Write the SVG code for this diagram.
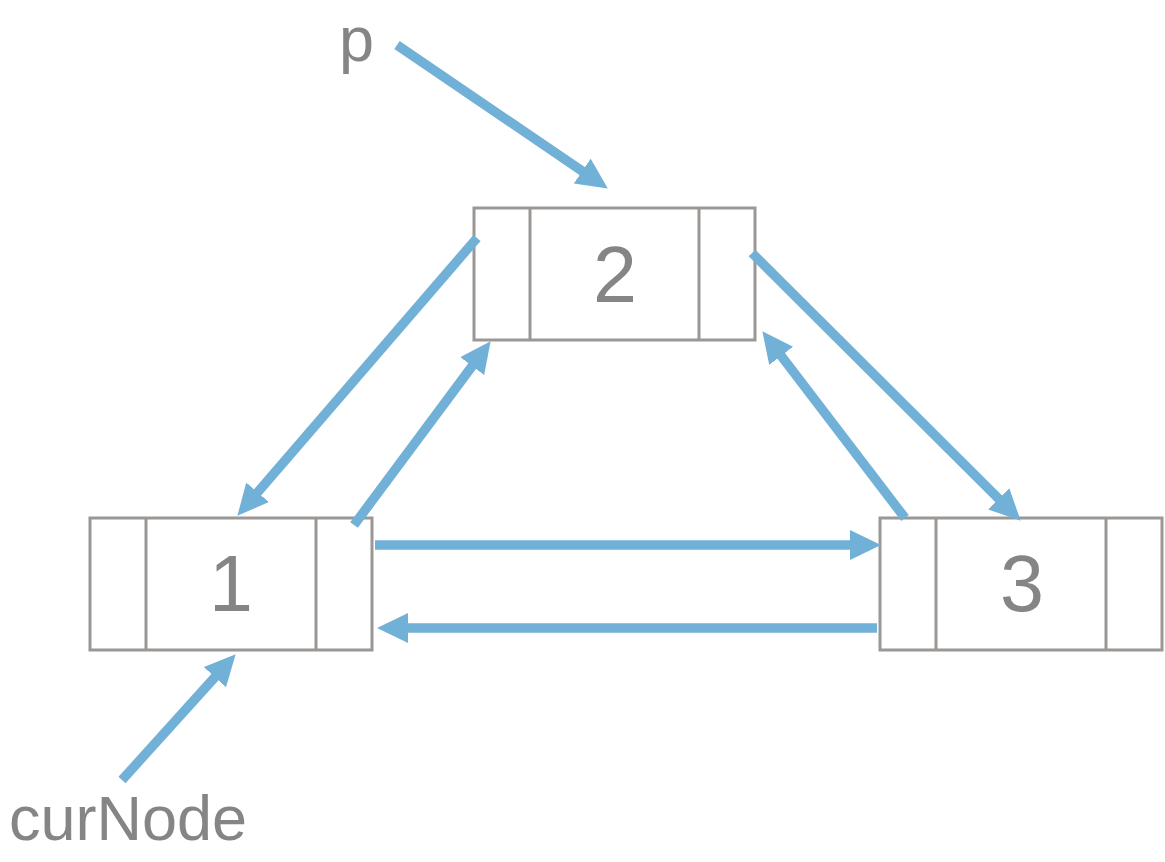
<svg xmlns="http://www.w3.org/2000/svg" width="1165" height="862" viewBox="0 0 1165 862">
<style>
.box{fill:#ffffff;stroke:#9b9795;stroke-width:3}
.lbl{font-family:"Liberation Sans",Arial,sans-serif;fill:#858585}
.num{font-size:79px;text-anchor:middle}
.name{font-size:63px}
.arr{stroke:#72b1d7;stroke-width:9.5;fill:none;marker-end:url(#ah)}
</style>
<defs>
<marker id="ah" markerUnits="userSpaceOnUse" markerWidth="34" markerHeight="32" refX="10" refY="15" orient="auto">
<path d="M0,0 L31,15 L0,30 Z" fill="#72b1d7"/>
</marker>
</defs>
<rect width="1165" height="862" fill="#ffffff"/>
<g id="node1">
<rect class="box" x="90" y="518" width="282" height="132"/>
<line class="box" x1="146" y1="518" x2="146" y2="650"/>
<line class="box" x1="316" y1="518" x2="316" y2="650"/>
<text class="lbl num" x="231" y="611">1</text>
</g>
<g id="node2">
<rect class="box" x="474" y="208" width="281" height="132"/>
<line class="box" x1="530" y1="208" x2="530" y2="340"/>
<line class="box" x1="699" y1="208" x2="699" y2="340"/>
<text class="lbl num" x="615" y="302">2</text>
</g>
<g id="node3">
<rect class="box" x="880" y="518" width="282" height="132"/>
<line class="box" x1="936" y1="518" x2="936" y2="650"/>
<line class="box" x1="1106" y1="518" x2="1106" y2="650"/>
<text class="lbl num" x="1022" y="611">3</text>
</g>
<g id="label-p"><text class="lbl name" x="339" y="61">p</text></g>
<g id="label-curNode"><text class="lbl name" x="9" y="840">curNode</text></g>
<g id="connectors">
<line class="arr" x1="397" y1="45" x2="590.5" y2="176.7"/>
<line class="arr" x1="477" y1="238" x2="251.1" y2="499.9"/>
<line class="arr" x1="354" y1="525" x2="478.1" y2="358.1"/>
<line class="arr" x1="752" y1="253" x2="1005.8" y2="505.9"/>
<line class="arr" x1="905" y1="518" x2="775.1" y2="347.9"/>
<line class="arr" x1="375" y1="545" x2="860" y2="545"/>
<line class="arr" x1="877" y1="628" x2="398" y2="628"/>
<line class="arr" x1="122" y1="780" x2="221.6" y2="669.8"/>
</g>
</svg>
